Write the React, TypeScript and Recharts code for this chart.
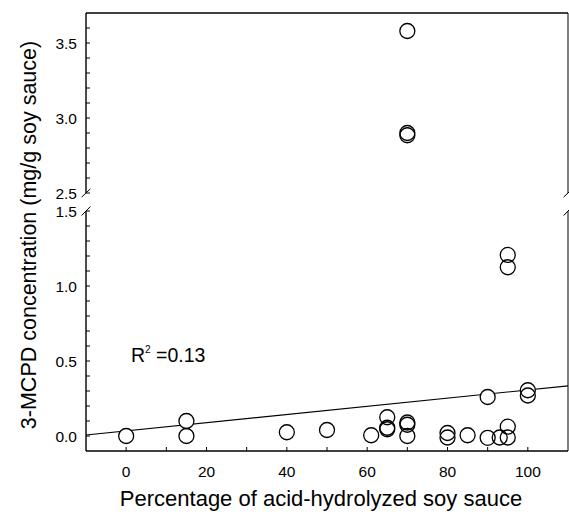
import React from 'react'
import { ScatterChart, Scatter, XAxis, YAxis, ReferenceLine } from 'recharts'

const FONT = '"Liberation Sans", Arial, Helvetica, sans-serif'

// share of acid-hydrolyzed sauce (%) vs 3-MCPD (mg/g), lower range
const lowX = [0, 15, 15, 40, 50, 61, 65, 65, 65, 70, 70, 70, 80, 80, 85, 90, 90, 93, 95, 95, 95, 95, 100, 100]
const lowY = [0.0, 0.1, 0.0, 0.025, 0.04, 0.005, 0.125, 0.055, 0.045, 0.09, 0.075, 0.0, 0.02, -0.01, 0.005, -0.012, 0.26, -0.01, 0.062, -0.01, 1.207, 1.125, 0.305, 0.27]

// samples above the axis break
const highX = [70, 70, 70]
const highY = [3.58, 2.9, 2.885]

// linear fit, R^2 = 0.13
const fitX = [-10, 110]
const fitY = [0.007, 0.334]

const xTicks = [0, 10, 20, 30, 40, 50, 60, 70, 80, 90, 100]
const highTicks = [2.5, 2.6, 2.7, 2.8, 2.9, 3.0, 3.1, 3.2, 3.3, 3.4, 3.5, 3.6]
const lowTicks = [0, 0.1, 0.2, 0.3, 0.4, 0.5, 0.6, 0.7, 0.8, 0.9, 1.0, 1.1, 1.2, 1.3, 1.4, 1.5]

const lowPts = lowX.map((x, i) => ({ x, y: lowY[i] }))
const highPts = highX.map((x, i) => ({ x, y: highY[i] }))
const fitPts = fitX.map((x, i) => ({ x, y: fitY[i] }))

const YTick = (props: any) => {
  const { x, y, payload } = props
  const v = payload.value as number
  const major = Math.abs(v * 2 - Math.round(v * 2)) < 1e-6
  return (
    <g>
      <line x1={x} x2={x + 4} y1={y} y2={y} stroke="#000" strokeWidth={1} />
      {major && (
        <text x={x - 9} y={y} dy={5.5} textAnchor="end" fontSize={15.5} fontFamily={FONT} fill="#000">
          {v.toFixed(1)}
        </text>
      )}
    </g>
  )
}

const XTick = (props: any) => {
  const { x, y, payload } = props
  const v = payload.value as number
  return (
    <g>
      <line x1={x} x2={x} y1={y} y2={y - 4} stroke="#000" strokeWidth={1} />
      {v % 20 === 0 && (
        <text x={x} y={y + 26} textAnchor="middle" fontSize={15.5} fontFamily={FONT} fill="#000">
          {v}
        </text>
      )}
    </g>
  )
}

const fillDot = (p: any) => <circle cx={p.cx} cy={p.cy} r={7.5} fill="#fff" stroke="none" />
const ringDot = (p: any) => <circle cx={p.cx} cy={p.cy} r={7.5} fill="none" stroke="#000" strokeWidth={1.3} />
const noDot = () => <g />

// small slashes where the y axis is broken
const breakMark = (x: number, y: number, dy: number) => [
  { x: x - 1.1, y: y - dy },
  { x: x + 1.1, y: y + dy },
]

const axisStroke = { stroke: '#000', strokeWidth: 1.4 }

export default function App() {
  return (
    <div style={{ position: 'absolute', left: 0, top: 0, width: 569, height: 515, background: '#fff' }}>
      {/* upper panel: 2.5 - 3.7 */}
      <div style={{ position: 'absolute', left: 0, top: 0 }}>
        <ScatterChart width={569} height={200} margin={{ top: 13, right: 1, bottom: 7, left: 26 }}>
          <XAxis type="number" dataKey="x" domain={[-10, 110]} hide />
          <YAxis
            type="number"
            dataKey="y"
            domain={[2.5, 3.7]}
            ticks={highTicks}
            interval={0}
            tickSize={0}
            tickMargin={0}
            tickLine={false}
            tick={<YTick />}
            axisLine={axisStroke}
            width={60}
          />
          <ReferenceLine y={3.7} stroke="#000" strokeWidth={1.6} />
          <ReferenceLine x={110} stroke="#000" strokeWidth={1} />
          <ReferenceLine segment={breakMark(-10, 2.5, 0.028)} stroke="#000" ifOverflow="visible" />
          <ReferenceLine segment={breakMark(110, 2.5, 0.028)} stroke="#000" ifOverflow="visible" />
          <Scatter data={highPts} shape={fillDot} isAnimationActive={false} />
          <Scatter data={highPts} shape={ringDot} isAnimationActive={false} />
        </ScatterChart>
      </div>

      {/* lower panel: -0.1 - 1.5 */}
      <div style={{ position: 'absolute', left: 0, top: 200 }}>
        <ScatterChart width={569} height={315} margin={{ top: 11, right: 1, bottom: 0, left: 26 }}>
          <XAxis
            type="number"
            dataKey="x"
            domain={[-10, 110]}
            ticks={xTicks}
            interval={0}
            tickSize={0}
            tickMargin={0}
            tickLine={false}
            tick={<XTick />}
            axisLine={axisStroke}
            height={64}
          />
          <YAxis
            type="number"
            dataKey="y"
            domain={[-0.1, 1.5]}
            ticks={lowTicks}
            interval={0}
            tickSize={0}
            tickMargin={0}
            tickLine={false}
            tick={<YTick />}
            axisLine={axisStroke}
            width={60}
          />
          <ReferenceLine x={110} stroke="#000" strokeWidth={1} />
          <ReferenceLine segment={breakMark(-10, 1.5, 0.03)} stroke="#000" ifOverflow="visible" />
          <ReferenceLine segment={breakMark(110, 1.5, 0.03)} stroke="#000" ifOverflow="visible" />
          <Scatter data={fitPts} line={{ stroke: '#000', strokeWidth: 1.1 }} shape={noDot} isAnimationActive={false} />
          <Scatter data={lowPts} shape={fillDot} isAnimationActive={false} />
          <Scatter data={lowPts} shape={ringDot} isAnimationActive={false} />
        </ScatterChart>
      </div>

      <svg width={569} height={515} style={{ position: 'absolute', left: 0, top: 0, pointerEvents: 'none' }}>
        <text
          transform="translate(36 235) rotate(-90)"
          textAnchor="middle"
          fontSize={21.5}
          fontFamily={FONT}
          fill="#000"
        >
          3-MCPD concentration (mg/g soy sauce)
        </text>
        <text x={321} y={506} textAnchor="middle" fontSize={22} fontFamily={FONT} fill="#000">
          Percentage of acid-hydrolyzed soy sauce
        </text>
        <text x={131} y={362} fontSize={19.5} fontFamily={FONT} fill="#000">
          R<tspan fontSize={10} dy={-9}>2</tspan>
          <tspan dy={9}> =0.13</tspan>
        </text>
      </svg>
    </div>
  )
}
